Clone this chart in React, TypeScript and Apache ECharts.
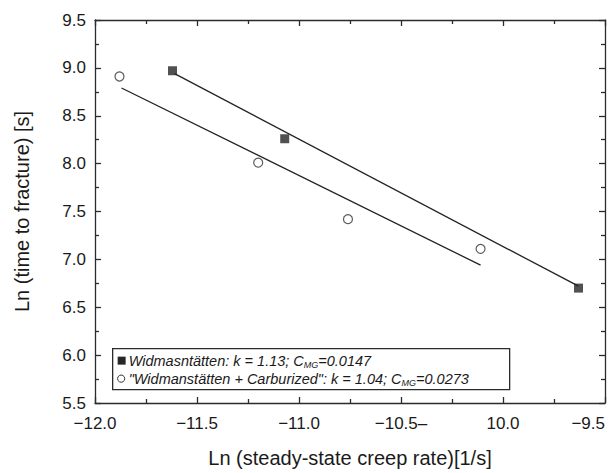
import React, { useEffect, useRef } from "react";
import * as echarts from "echarts";

const xTickValues = [-12, -11.5, -11, -10.5, -10, -9.5];
const xTickLabels = ["\u221212.0", "\u221211.5", "\u221211.0", "\u221210.5\u2013", "10.0", "\u22129.5"];
const yTickValues = [5.5, 6, 6.5, 7, 7.5, 8, 8.5, 9, 9.5];
const yTickLabels = ["5.5", "6.0", "6.5", "7.0", "7.5", "8.0", "8.5", "9.0", "9.5"];

const widX = [-11.62, -11.07, -9.63];
const widY = [8.97, 8.26, 6.7];
const carbX = [-11.88, -11.2, -10.76, -10.11];
const carbY = [8.91, 8.01, 7.42, 7.11];

const widFitX = [-11.61, -9.63];
const widFitY = [8.94, 6.72];
const carbFitX = [-11.87, -10.11];
const carbFitY = [8.79, 6.94];

const xTitle = "Ln (steady-state creep rate)[1/s]";
const yTitle = "Ln (time to fracture) [s]";
const legendLine1 = ["Widmasntätten: k = 1.13; C", "MG", "=0.0147"];
const legendLine2 = ["\"Widmanstätten + Carburized\": k = 1.04; C", "MG", "=0.0273"];

const FONT = "'Liberation Sans', Arial, Helvetica, sans-serif";
const INK = "#2b2b2b";

function pairs(xs: number[], ys: number[]) {
  return xs.map((x, i) => [x, ys[i]]);
}

export default function App() {
  const ref = useRef<HTMLDivElement>(null);
  useEffect(() => {
    if (!ref.current) return;
    const chart = echarts.init(ref.current, undefined, { renderer: "svg" });
    const fmtX = (v: number) => {
      const i = xTickValues.findIndex((t) => Math.abs(t - v) < 1e-6);
      return i >= 0 ? xTickLabels[i] : "";
    };
    const fmtY = (v: number) => {
      const i = yTickValues.findIndex((t) => Math.abs(t - v) < 1e-6);
      return i >= 0 ? yTickLabels[i] : "";
    };
    const axisLine = { show: true, lineStyle: { color: INK, width: 1.3 } };
    const axisTick = { show: true, inside: true, length: 6, lineStyle: { color: INK, width: 1.3 } };
    const minorTick = { show: true, splitNumber: 2, length: 4, lineStyle: { color: INK, width: 1.3 } };
    const rich = {
      t: { fontSize: 14.5, fontStyle: "italic", fontFamily: FONT, fill: "#1a1a1a" },
      s: { fontSize: 9, fontStyle: "italic", fontFamily: FONT, fill: "#1a1a1a", padding: [9, 0, 0, 0] },
    };
    const option: any = {
      animation: false,
      backgroundColor: "#ffffff",
      grid: { left: 95, right: 8, top: 20, bottom: 65, containLabel: false },
      xAxis: [
        {
          type: "value", min: -12, max: -9.5, interval: 0.5, position: "bottom",
          axisLine, axisTick, minorTick, splitLine: { show: false },
          axisLabel: {
            formatter: fmtX, color: "#1a1a1a", fontSize: 17, fontFamily: FONT, margin: 12,
            alignMaxLabel: "right",
          },
          name: xTitle, nameLocation: "middle", nameGap: 45,
          nameTextStyle: { color: "#1a1a1a", fontSize: 20, fontFamily: FONT },
        },
        {
          type: "value", min: -12, max: -9.5, interval: 0.5, position: "top",
          axisLine, axisTick, minorTick, splitLine: { show: false },
          axisLabel: { show: false },
        },
      ],
      yAxis: [
        {
          type: "value", min: 5.5, max: 9.5, interval: 0.5, position: "left",
          axisLine, axisTick, minorTick, splitLine: { show: false },
          axisLabel: { formatter: fmtY, color: "#1a1a1a", fontSize: 17, fontFamily: FONT, margin: 9 },
          name: yTitle, nameLocation: "middle", nameGap: 63, nameRotate: 90,
          nameTextStyle: { color: "#1a1a1a", fontSize: 20, fontFamily: FONT },
        },
        {
          type: "value", min: 5.5, max: 9.5, interval: 0.5, position: "right",
          axisLine, axisTick, minorTick, splitLine: { show: false },
          axisLabel: { show: false },
        },
      ],
      series: [
        {
          type: "line", data: pairs(widFitX, widFitY), showSymbol: false, symbol: "none",
          lineStyle: { color: "#222", width: 1.3 }, silent: true, z: 2,
        },
        {
          type: "line", data: pairs(carbFitX, carbFitY), showSymbol: false, symbol: "none",
          lineStyle: { color: "#222", width: 1.3 }, silent: true, z: 2,
        },
        {
          type: "scatter", data: pairs(widX, widY), symbol: "rect", symbolSize: 9,
          itemStyle: { color: "#262626" }, z: 3,
        },
        {
          type: "scatter", data: pairs(carbX, carbY), symbol: "circle", symbolSize: 9,
          itemStyle: { color: "#ffffff", borderColor: "#333333", borderWidth: 1.2 }, z: 3,
        },
      ],
      graphic: [
        {
          type: "group", left: 112, top: 348,
          children: [
            { type: "rect", shape: { x: 0, y: 0, width: 397, height: 41 }, style: { fill: "#fff", stroke: INK, lineWidth: 1.3 } },
            { type: "rect", shape: { x: 5, y: 8, width: 8, height: 8 }, style: { fill: "#262626" } },
            { type: "circle", shape: { cx: 8.5, cy: 30, r: 3.6 }, style: { fill: "#fff", stroke: "#333", lineWidth: 1 } },
            {
              type: "text", x: 16, y: 12,
              style: {
                text: `{t|${legendLine1[0]}}{s|${legendLine1[1]}}{t|${legendLine1[2]}}`,
                verticalAlign: "middle",
                rich,
              },
            },
            {
              type: "text", x: 16, y: 30,
              style: {
                text: `{t|${legendLine2[0]}}{s|${legendLine2[1]}}{t|${legendLine2[2]}}`,
                verticalAlign: "middle",
                rich,
              },
            },
          ],
        },
      ],
    };
    chart.setOption(option);
    return () => chart.dispose();
  }, []);
  return (
    <div
      ref={ref}
      style={{ position: "absolute", left: 0, top: 0, width: 613, height: 473 }}
    />
  );
}
